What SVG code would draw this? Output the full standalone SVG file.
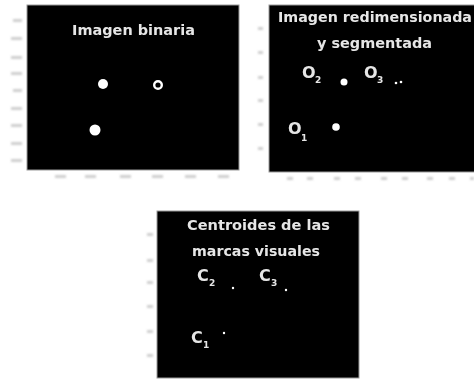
<svg xmlns="http://www.w3.org/2000/svg" width="474" height="381" viewBox="0 0 474 381">
<defs>
<filter id="soft" x="-10%" y="-10%" width="120%" height="120%"><feGaussianBlur stdDeviation="0.6"/></filter>
<filter id="soft2" x="-20%" y="-20%" width="140%" height="140%"><feGaussianBlur stdDeviation="1"/></filter>
</defs>
<style>
.panel{fill:#000;stroke:#9a9a9a;stroke-width:1}
.t{fill:#e6e6e6;font-family:"DejaVu Sans","Liberation Sans",sans-serif;font-size:14px;font-weight:bold}
.lab{fill:#e6e6e6;font-family:"DejaVu Sans","Liberation Sans",sans-serif;font-size:16px;font-weight:bold}
.sub{fill:#e6e6e6;font-family:"DejaVu Sans","Liberation Sans",sans-serif;font-size:9px;font-weight:bold}
.dot{fill:#fff}
.tick{fill:#cfcfcf}
</style>
<rect width="474" height="381" fill="#fff"/>

<g id="panel-binaria">
<g filter="url(#soft2)">
<rect class="tick" x="13" y="19" width="9" height="3"/><rect class="tick" x="11" y="37" width="11" height="3"/><rect class="tick" x="11" y="56" width="11" height="3"/><rect class="tick" x="11" y="72" width="11" height="3"/><rect class="tick" x="13" y="89" width="9" height="3"/><rect class="tick" x="11" y="107" width="11" height="3"/><rect class="tick" x="11" y="124" width="11" height="3"/><rect class="tick" x="11" y="142" width="11" height="3"/><rect class="tick" x="11" y="159" width="11" height="3"/>
<rect class="tick" x="55" y="175" width="11" height="3"/><rect class="tick" x="85" y="175" width="11" height="3"/><rect class="tick" x="120" y="175" width="11" height="3"/><rect class="tick" x="152" y="175" width="11" height="3"/><rect class="tick" x="185" y="175" width="11" height="3"/><rect class="tick" x="218" y="175" width="11" height="3"/>
</g>
<rect class="panel" x="27" y="5" width="212" height="165"/>
<g filter="url(#soft)">
<text class="t" x="72" y="35" textLength="123" lengthAdjust="spacingAndGlyphs">Imagen binaria</text>
<circle class="dot" cx="103" cy="84" r="5"/>
<circle cx="158" cy="85" r="3.8" fill="none" stroke="#fff" stroke-width="2.4"/>
<circle class="dot" cx="95" cy="130" r="5.5"/>
</g>
</g>

<g id="panel-redimensionada">
<g filter="url(#soft2)">
<rect class="tick" x="258" y="27" width="5" height="3"/><rect class="tick" x="258" y="51" width="5" height="3"/><rect class="tick" x="258" y="76" width="5" height="3"/><rect class="tick" x="258" y="99" width="5" height="3"/><rect class="tick" x="258" y="123" width="5" height="3"/><rect class="tick" x="258" y="147" width="5" height="3"/>
<rect class="tick" x="287" y="177" width="6" height="3"/><rect class="tick" x="307" y="177" width="6" height="3"/><rect class="tick" x="334" y="177" width="6" height="3"/><rect class="tick" x="355" y="177" width="6" height="3"/><rect class="tick" x="381" y="177" width="6" height="3"/><rect class="tick" x="402" y="177" width="6" height="3"/><rect class="tick" x="427" y="177" width="6" height="3"/><rect class="tick" x="449" y="177" width="6" height="3"/><rect class="tick" x="470" y="177" width="4" height="3"/>
</g>
<rect class="panel" x="269" y="5" width="210" height="167"/>
<g filter="url(#soft)">
<text class="t" x="278" y="22" textLength="194" lengthAdjust="spacingAndGlyphs">Imagen redimensionada</text>
<text class="t" x="317" y="48" textLength="115" lengthAdjust="spacingAndGlyphs">y segmentada</text>
<text class="lab" x="302" y="78">O</text><text class="sub" x="315" y="83">2</text>
<text class="lab" x="364" y="78">O</text><text class="sub" x="377" y="83">3</text>
<text class="lab" x="288" y="134">O</text><text class="sub" x="301" y="141">1</text>
<circle class="dot" cx="344" cy="82" r="3.5"/>
<circle class="dot" cx="396" cy="83" r="1.3"/>
<circle class="dot" cx="401" cy="82" r="1.3"/>
<circle class="dot" cx="336" cy="127" r="3.8"/>
</g>
</g>

<g id="panel-centroides">
<g filter="url(#soft2)">
<rect class="tick" x="147" y="233" width="6" height="3"/><rect class="tick" x="147" y="259" width="6" height="3"/><rect class="tick" x="147" y="281" width="6" height="3"/><rect class="tick" x="147" y="305" width="6" height="3"/><rect class="tick" x="147" y="330" width="6" height="3"/><rect class="tick" x="147" y="354" width="6" height="3"/>
</g>
<rect class="panel" x="157" y="211" width="202" height="167"/>
<g filter="url(#soft)">
<text class="t" x="187" y="230" textLength="143" lengthAdjust="spacingAndGlyphs">Centroides de las</text>
<text class="t" x="192" y="256" textLength="128" lengthAdjust="spacingAndGlyphs">marcas visuales</text>
<text class="lab" x="197" y="281">C</text><text class="sub" x="209" y="286">2</text>
<text class="lab" x="259" y="281">C</text><text class="sub" x="271" y="286">3</text>
<text class="lab" x="191" y="343">C</text><text class="sub" x="203" y="348">1</text>
<circle class="dot" cx="233" cy="288" r="1.2"/>
<circle class="dot" cx="286" cy="290" r="1.2"/>
<circle class="dot" cx="224" cy="333" r="1.2"/>
</g>
</g>
</svg>
